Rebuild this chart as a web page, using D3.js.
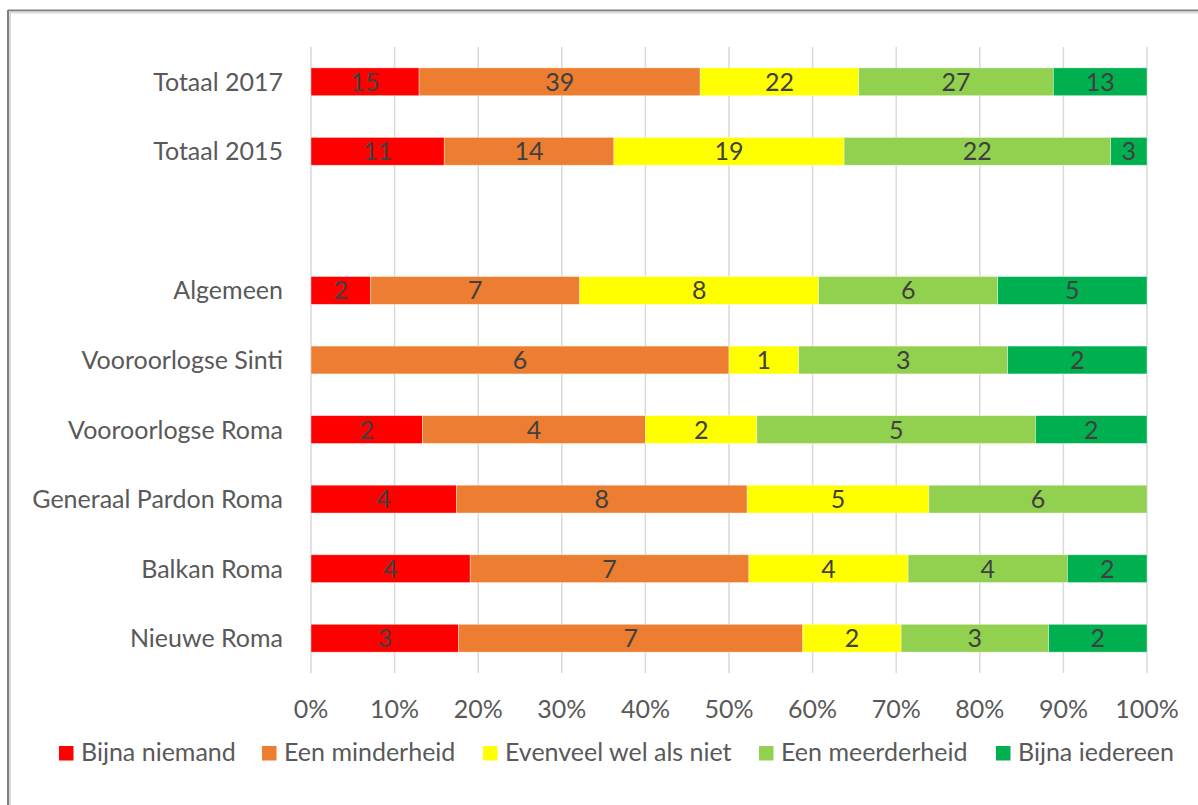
<!DOCTYPE html>
<html>
<head>
<meta charset="utf-8">
<script src="https://cdn.jsdelivr.net/npm/d3@7"></script>
<style>
  html, body { margin: 0; padding: 0; background: #fff; }
  svg { display: block; }
  text { font-family: Lato, "Open Sans", sans-serif; }
</style>
</head>
<body>
<svg id="chart" width="1198" height="805"></svg>
<script>
const categories = ["Totaal 2017", "Totaal 2015", "", "Algemeen", "Vooroorlogse Sinti", "Vooroorlogse Roma", "Generaal Pardon Roma", "Balkan Roma", "Nieuwe Roma"];
const seriesNames = ["Bijna niemand", "Een minderheid", "Evenveel wel als niet", "Een meerderheid", "Bijna iedereen"];
const bijnaNiemand   = [15, 11, 0, 2, 0, 2, 4, 4, 3];
const eenMinderheid  = [39, 14, 0, 7, 6, 4, 8, 7, 7];
const evenveel       = [22, 19, 0, 8, 1, 2, 5, 4, 2];
const eenMeerderheid = [27, 22, 0, 6, 3, 5, 6, 4, 3];
const bijnaIedereen  = [13, 3, 0, 5, 2, 2, 0, 2, 2];
const tickLabels = ["0%", "10%", "20%", "30%", "40%", "50%", "60%", "70%", "80%", "90%", "100%"];
const colors = ["#FF0000", "#ED7D31", "#FFFF00", "#92D050", "#00B050"];

const seriesValues = [bijnaNiemand, eenMinderheid, evenveel, eenMeerderheid, bijnaIedereen];

(function () {
const svg = d3.select("#chart");

// chart border (cropped frame: top & left visible)
svg.append("line").attr("x1", 8).attr("x2", 1198).attr("y1", 10.5).attr("y2", 10.5).attr("stroke", "#7f7f7f").attr("stroke-width", 2);
svg.append("line").attr("x1", 9).attr("x2", 1198).attr("y1", 12.5).attr("y2", 12.5).attr("stroke", "#d9d9d9").attr("stroke-width", 2);
svg.append("line").attr("x1", 8).attr("x2", 8).attr("y1", 10).attr("y2", 805).attr("stroke", "#7f7f7f").attr("stroke-width", 2);
svg.append("line").attr("x1", 10).attr("x2", 10).attr("y1", 12).attr("y2", 805).attr("stroke", "#d9d9d9").attr("stroke-width", 2);

const pLeft = 311, pRight = 1147, pTop = 47, pBottom = 673;

const x = d3.scaleLinear().domain([0, 1]).range([pLeft, pRight]);
const y = d3.scaleBand().domain(d3.range(categories.length)).range([pTop, pBottom]).paddingInner(0.6).paddingOuter(0.3);

// gridlines
const ticks = d3.range(0, 1.0001, 0.1);
svg.append("g").selectAll("line").data(ticks).join("line")
  .attr("x1", d => x(d)).attr("x2", d => x(d))
  .attr("y1", pTop).attr("y2", pBottom)
  .attr("stroke", "#d9d9d9").attr("stroke-width", 1.5);

// stacked normalised data
const rows = categories.map((c, i) => {
  const obj = { idx: i };
  seriesNames.forEach((s, k) => obj[s] = seriesValues[k][i]);
  return obj;
});
const stack = d3.stack().keys(seriesNames).offset(d3.stackOffsetExpand);
const stacked = stack(rows);

const g = svg.append("g");
stacked.forEach((layer, k) => {
  const lg = g.append("g");
  layer.forEach((d, i) => {
    const v = seriesValues[k][i];
    if (!v) return;
    const x0 = x(d[0]), x1 = x(d[1]);
    lg.append("rect")
      .attr("x", x0).attr("y", y(i))
      .attr("width", x1 - x0).attr("height", y.bandwidth())
      .attr("fill", colors[k])
      .attr("stroke", "#ffffff").attr("stroke-opacity", 0.5).attr("stroke-width", 0.75);
    lg.append("text")
      .attr("x", (x0 + x1) / 2).attr("y", y(i) + y.bandwidth() / 2)
      .attr("dy", "0.36em")
      .attr("text-anchor", "middle")
      .attr("font-size", 25)
      .attr("fill", "#404040")
      .text(v);
  });
});

// category labels
svg.append("g").selectAll("text").data(categories).join("text")
  .attr("x", pLeft - 28)
  .attr("y", (d, i) => y(i) + y.bandwidth() / 2)
  .attr("dy", "0.36em")
  .attr("text-anchor", "end")
  .attr("font-size", 25)
  .attr("fill", "#595959")
  .text(d => d);

// x axis tick labels
svg.append("g").selectAll("text").data(ticks).join("text")
  .attr("x", d => x(d))
  .attr("y", 718)
  .attr("text-anchor", "middle")
  .attr("font-size", 25)
  .attr("fill", "#595959")
  .text((d, i) => tickLabels[i]);

// legend
const legendX = [59, 262, 483, 759, 996];
const lgd = svg.append("g");
seriesNames.forEach((s, k) => {
  lgd.append("rect").attr("x", legendX[k]).attr("y", 746).attr("width", 14.5).attr("height", 14.5).attr("fill", colors[k]);
  lgd.append("text").attr("x", legendX[k] + 22).attr("y", 761)
    .attr("font-size", 25).attr("fill", "#595959").text(s);
});
})();
</script>
</body>
</html>
